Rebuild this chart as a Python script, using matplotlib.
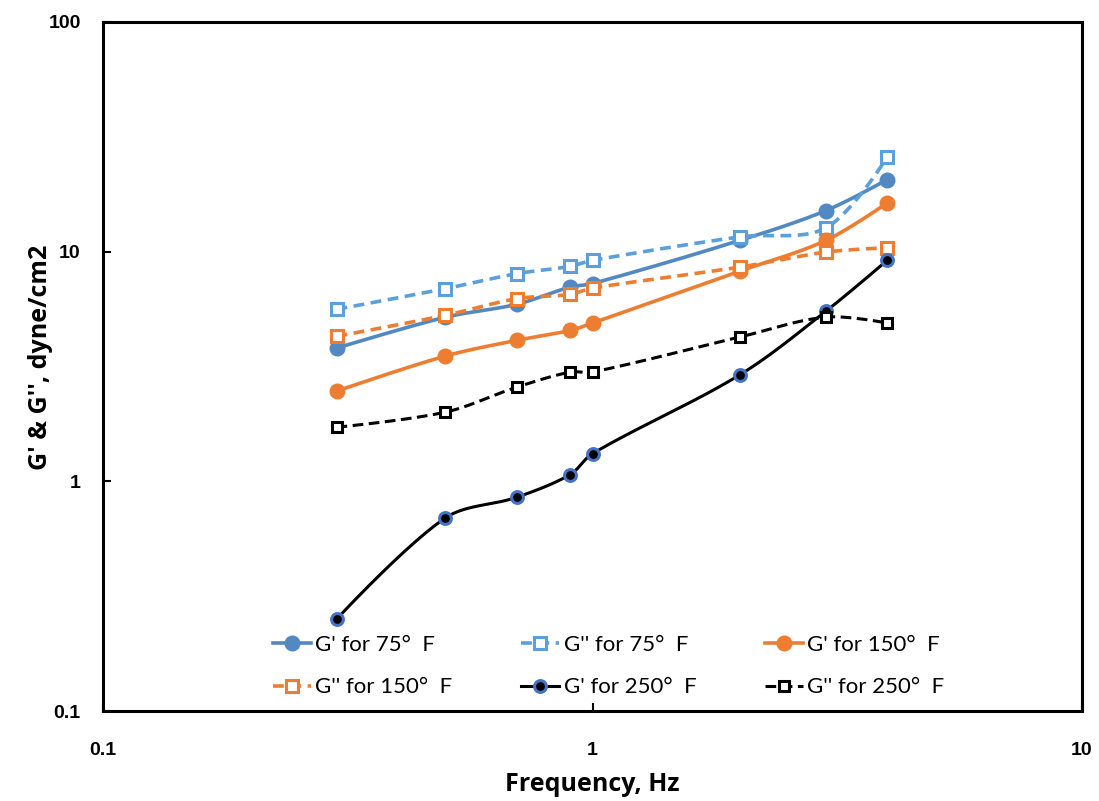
import numpy as np
import matplotlib
matplotlib.use('Agg')
import matplotlib.pyplot as plt
from matplotlib.lines import Line2D

freq = [0.3, 0.5, 0.7, 0.9, 1.0, 2.0, 3.0, 4.0]
g1_75 = [3.80, 5.18, 5.90, 7.01, 7.26, 11.2, 15.1, 20.6]
g2_75 = [5.61, 6.90, 8.02, 8.63, 9.17, 11.6, 12.7, 25.8]
g1_150 = [2.47, 3.51, 4.11, 4.54, 4.89, 8.23, 11.2, 16.3]
g2_150 = [4.28, 5.28, 6.24, 6.52, 6.94, 8.57, 9.96, 10.4]
g1_250 = [0.251, 0.692, 0.852, 1.07, 1.32, 2.91, 5.51, 9.17]
g2_250 = [1.72, 2.00, 2.57, 2.99, 2.99, 4.25, 5.19, 4.89]
labels = ["G' for 75°  F", "G'' for 75°  F", "G' for 150°  F",
          "G'' for 150°  F", "G' for 250°  F", "G'' for 250°  F"]
xticks = [0.1, 1, 10]
yticks = [0.1, 1, 10, 100]


def smooth(x, y, n=40):
    # Bezier smoothing in log (screen-proportional) space, chord-length weighted tangents
    P = np.column_stack([np.log10(x) * 490.0, np.log10(y) * 229.7])
    m = len(P)
    d = np.hypot(*np.diff(P, axis=0).T)
    tang = np.zeros_like(P)
    for i in range(m):
        if i == 0:
            tang[i] = (P[1] - P[0]) / d[0]
        elif i == m - 1:
            tang[i] = (P[-1] - P[-2]) / d[-1]
        else:
            tang[i] = (P[i + 1] - P[i - 1]) / (d[i - 1] + d[i])
    out = [P[0]]
    t = np.linspace(0, 1, n)[1:, None]
    for i in range(m - 1):
        p1, p2 = P[i], P[i + 1]
        c1 = p1 + tang[i] * d[i] / 3 if i > 0 else p1
        c2 = p2 - tang[i + 1] * d[i] / 3 if i + 1 < m - 1 else p2
        B = (1 - t) ** 3 * p1 + 3 * (1 - t) ** 2 * t * c1 + 3 * (1 - t) * t ** 2 * c2 + t ** 3 * p2
        out.extend(B)
    out = np.array(out)
    return 10 ** (out[:, 0] / 490.0), 10 ** (out[:, 1] / 229.7)


fig = plt.figure(figsize=(10.99, 8.01), dpi=100)
ax = fig.add_axes([103 / 1099, 1 - 711 / 801, (1082 - 103) / 1099, (711 - 22) / 801])

c_b1 = '#5289C3'
c_b2 = '#5BA0DD'
c_or = '#ED7D31'
c_dk = '#000000'
c_edge = '#4472C4'

styles = [
    dict(data=g1_75, color=c_b1, ls='-', lw=2.6, marker='o', ms=10, mfc=c_b1, mec=c_b1, mew=1.5),
    dict(data=g2_75, color=c_b2, ls=(0, (3, 1.8)), lw=2.6, marker='s', ms=8.5, mfc='white', mec=c_b2, mew=2.2),
    dict(data=g1_150, color=c_or, ls='-', lw=2.6, marker='o', ms=10, mfc=c_or, mec=c_or, mew=1.5),
    dict(data=g2_150, color=c_or, ls=(0, (3, 1.8)), lw=2.6, marker='s', ms=8.5, mfc='white', mec=c_or, mew=2.2),
    dict(data=g1_250, color=c_dk, ls='-', lw=2.2, marker='o', ms=8.5, mfc=c_dk, mec=c_edge, mew=2.2),
    dict(data=g2_250, color=c_dk, ls=(0, (3.5, 1.8)), lw=2.2, marker='s', ms=6.5, mfc='white', mec=c_dk, mew=2.2),
]

handles = []
for st, lab in zip(styles, labels):
    sx, sy = smooth(freq, st['data'])
    ax.plot(sx, sy, color=st['color'], ls=st['ls'], lw=st['lw'], solid_capstyle='butt', zorder=2)
    ax.plot(freq, st['data'], ls='none', marker=st['marker'], ms=st['ms'], mfc=st['mfc'],
            mec=st['mec'], mew=st['mew'], zorder=3)
    handles.append(Line2D([], [], color=st['color'], ls=st['ls'], lw=st['lw'], marker=st['marker'],
                          ms=st['ms'], mfc=st['mfc'], mec=st['mec'], mew=st['mew'], label=lab))

ax.set_xscale('log')
ax.set_yscale('log')
ax.set_xlim(0.1, 10)
ax.set_ylim(0.1, 100)
ax.set_xticks(xticks)
ax.set_xticklabels(['0.1', '1', '10'])
ax.set_yticks(yticks)
ax.set_yticklabels(['0.1', '1', '10', '100'])
ax.minorticks_off()
ax.tick_params(direction='in', length=6, width=1.5)
ax.tick_params(axis='y', pad=16)
ax.tick_params(axis='x', pad=22)
for lab in ax.get_xticklabels() + ax.get_yticklabels():
    lab.set_fontfamily('Liberation Sans')
    lab.set_fontweight('bold')
    lab.set_fontsize(14)
for sp in ax.spines.values():
    sp.set_linewidth(2.2)

ax.set_xlabel('Frequency, Hz', fontsize=18, fontweight='bold', family='Open Sans', labelpad=10)
ax.set_ylabel("G' & G'', dyne/cm2", fontsize=18, fontweight='bold', family='Open Sans')
ax.yaxis.set_label_coords(-50 / 979, 0.513)

order = [0, 3, 1, 4, 2, 5]
leg = ax.legend([handles[i] for i in order], [labels[i] for i in order], ncol=3,
                loc='upper left', bbox_to_anchor=(262 / 1099, 1 - 624 / 801),
                bbox_transform=fig.transFigure, frameon=False, borderpad=0,
                handlelength=1.7, handletextpad=0.2, columnspacing=3.1, labelspacing=1.0,
                prop={'family': 'Lato', 'size': 16})

fig.savefig('out.png', dpi=100)
